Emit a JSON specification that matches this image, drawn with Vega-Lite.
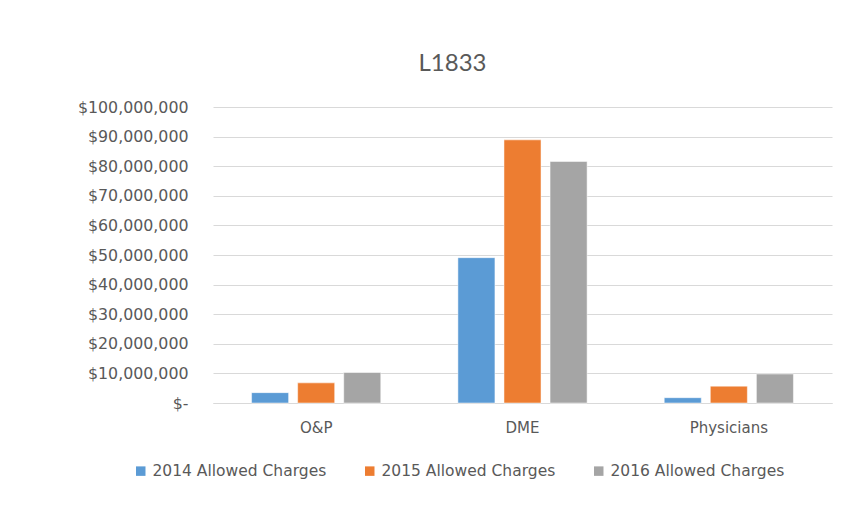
{
  "$schema": "https://vega.github.io/schema/vega-lite/v6.json",
  "autosize": {"type": "none"},
  "width": 619,
  "height": 296,
  "padding": {"left": 213, "top": 107, "right": 9, "bottom": 115},
  "background": "white",
  "title": {"text": "L1833", "font": "Lato", "fontSize": 24, "fontWeight": "normal", "color": "#595959", "anchor": "middle", "dx": -70, "offset": 23},
  "data": {"values": [
    {"cat": "O&P", "series": "2014 Allowed Charges", "v": 3500000},
    {"cat": "O&P", "series": "2015 Allowed Charges", "v": 6800000},
    {"cat": "O&P", "series": "2016 Allowed Charges", "v": 10300000},
    {"cat": "DME", "series": "2014 Allowed Charges", "v": 49100000},
    {"cat": "DME", "series": "2015 Allowed Charges", "v": 88900000},
    {"cat": "DME", "series": "2016 Allowed Charges", "v": 81600000},
    {"cat": "Physicians", "series": "2014 Allowed Charges", "v": 1800000},
    {"cat": "Physicians", "series": "2015 Allowed Charges", "v": 5700000},
    {"cat": "Physicians", "series": "2016 Allowed Charges", "v": 9800000}
  ]},
  "mark": {"type": "bar", "stroke": "white", "strokeWidth": 0.5},
  "encoding": {
    "x": {"field": "cat", "type": "nominal", "sort": ["O&P", "DME", "Physicians"],
      "scale": {"paddingInner": 0, "paddingOuter": 0},
      "axis": {"title": null, "labelAngle": 0, "labelFont": "DejaVu Sans", "labelFontSize": 15, "labelColor": "#595959", "ticks": false, "domainColor": "#d9d9d9", "labelPadding": 17}},
    "xOffset": {"field": "series", "type": "nominal", "scale": {"paddingInner": 0.196, "paddingOuter": 0.837}},
    "y": {"field": "v", "type": "quantitative",
      "scale": {"domain": [0, 100000000], "nice": false},
      "axis": {"title": null, "values": [0,10000000,20000000,30000000,40000000,50000000,60000000,70000000,80000000,90000000,100000000],
        "labelExpr": "datum.value == 0 ? '$-' : '$' + format(datum.value, ',')",
        "labelFont": "DejaVu Sans", "labelFontSize": 15.8, "labelColor": "#595959", "ticks": false, "domain": false, "gridColor": "#d9d9d9", "labelPadding": 25}},
    "color": {"field": "series", "type": "nominal", "title": null,
      "scale": {"range": ["#5B9BD5", "#ED7D31", "#A5A5A5"]},
      "legend": {"orient": "none", "direction": "horizontal", "legendX": -80, "legendY": 356, "symbolType": "square", "symbolSize": 90, "symbolStrokeWidth": 0, "labelFont": "DejaVu Sans", "labelFontSize": 15.5, "labelLimit": 400, "labelColor": "#595959", "columnPadding": 35, "symbolOffset": 0, "labelOffset": 4}}
  },
  "config": {"view": {"stroke": null}}
}
